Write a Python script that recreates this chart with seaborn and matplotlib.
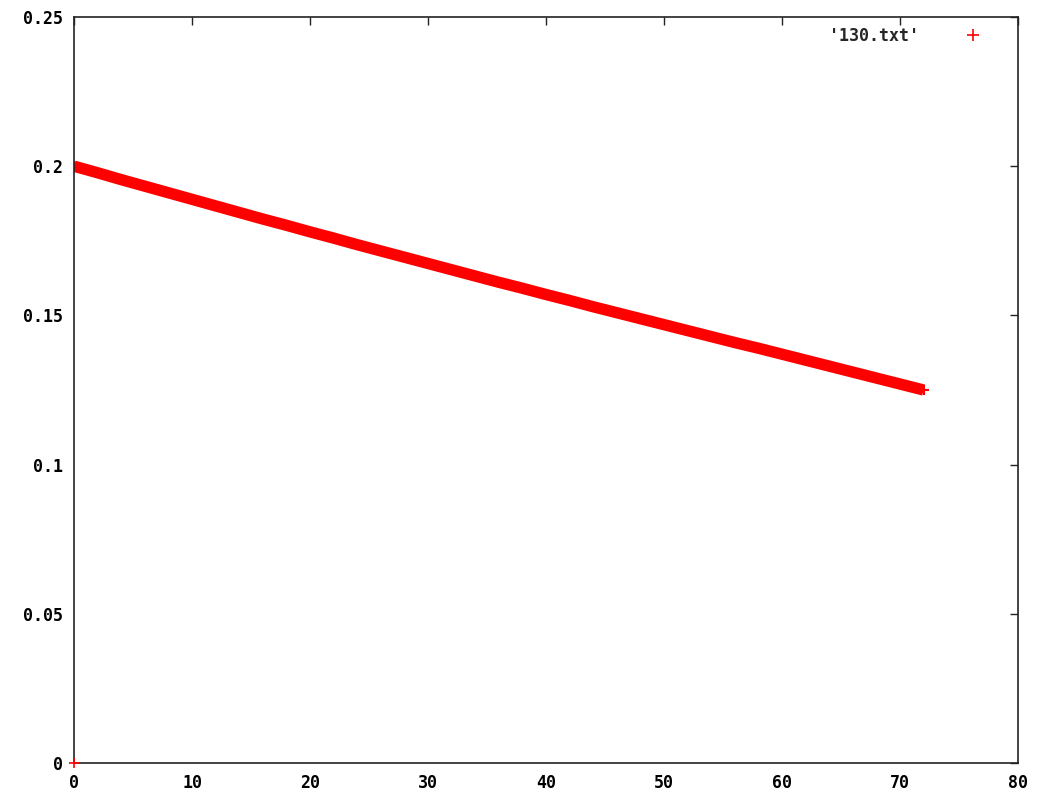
import matplotlib
matplotlib.use("Agg")
import matplotlib.pyplot as plt
import seaborn as sns
import pandas as pd
from matplotlib.lines import Line2D
from matplotlib.ticker import FormatStrFormatter, FuncFormatter

# values (band centre, every 2 units of x)
x_vals = [0, 2, 4, 6, 8, 10, 12, 14, 16, 18, 20, 22, 24, 26, 28, 30, 32, 34, 36,
          38, 40, 42, 44, 46, 48, 50, 52, 54, 56, 58, 60, 62, 64, 66, 68, 70, 72]
y_vals = [0.2000, 0.1978, 0.1955, 0.1933, 0.1911, 0.1889, 0.1867, 0.1845, 0.1823,
          0.1802, 0.1780, 0.1759, 0.1737, 0.1716, 0.1695, 0.1674, 0.1653, 0.1632,
          0.1611, 0.1591, 0.1570, 0.1550, 0.1529, 0.1509, 0.1489, 0.1469, 0.1449,
          0.1429, 0.1409, 0.1390, 0.1370, 0.1350, 0.1330, 0.1310, 0.1290, 0.1270,
          0.1250]
# lone point sitting at the origin
x_origin = [0]
y_origin = [0]
series_label = "'130.txt'"
x_ticks = [0, 10, 20, 30, 40, 50, 60, 70, 80]
y_ticks = [0, 0.05, 0.1, 0.15, 0.2, 0.25]

df = pd.DataFrame({"x": x_vals, "y": y_vals})
df0 = pd.DataFrame({"x": x_origin, "y": y_origin})

sns.set_style("white")
plt.rcParams["font.family"] = ["DejaVu Sans Mono"]
plt.rcParams["font.weight"] = "bold"

fig = plt.figure(figsize=(10.47, 8.01), dpi=100)
ax = fig.add_axes([74 / 1047, 38 / 801, 944 / 1047, 746 / 801])

red = "#ff0000"
sns.lineplot(data=df, x="x", y="y", ax=ax, color=red, linewidth=8.2,
             solid_capstyle="butt", legend=False)
sns.scatterplot(data=df, x="x", y="y", ax=ax, color=red, marker="+", s=50,
                linewidth=1.5, legend=False)
sns.scatterplot(data=df0, x="x", y="y", ax=ax, color=red, marker="+", s=60,
                linewidth=1.2, clip_on=False, legend=False, zorder=5)

ax.set_xlim(0, 80)
ax.set_ylim(0, 0.25)
ax.set_xticks(x_ticks)
ax.set_yticks(y_ticks)
ax.yaxis.set_major_formatter(FuncFormatter(lambda v, p: f"{v:g}"))
ax.xaxis.set_major_formatter(FormatStrFormatter("%d"))
ax.set_xlabel("")
ax.set_ylabel("")

for s in ax.spines.values():
    s.set_visible(True)
    s.set_color("#222222")
    s.set_linewidth(1.2)

ax.tick_params(direction="in", length=6, width=1, top=True, right=True,
               labelsize=12, colors="#222222", pad=8)
for lab in ax.get_xticklabels() + ax.get_yticklabels():
    lab.set_fontweight("bold")
    lab.set_color("black")

handle = Line2D([], [], color=red, marker="+", linestyle="none",
                markersize=9, markeredgewidth=1.2)
leg = ax.legend([handle], [series_label], loc="upper right", frameon=False,
                markerfirst=False, fontsize=12, handlelength=2.5,
                handletextpad=2.0, borderaxespad=0.2,
                bbox_to_anchor=(0.985, 1.0))
for t in leg.get_texts():
    t.set_fontweight("bold")

fig.savefig("out.png", dpi=100)
